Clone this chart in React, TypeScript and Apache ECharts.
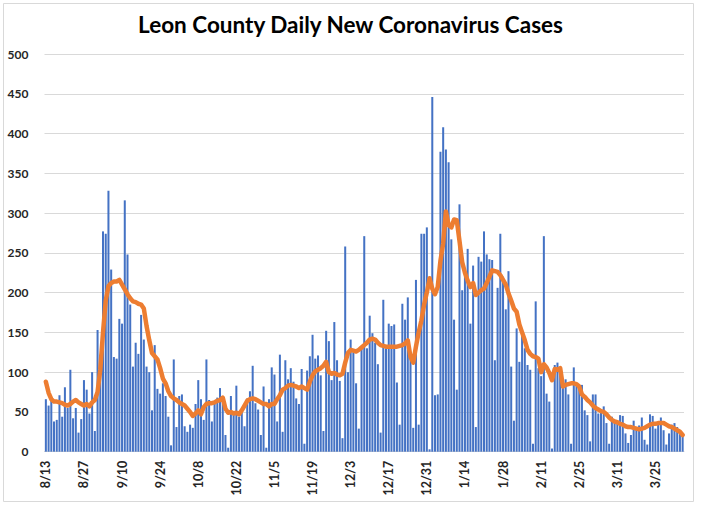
import React, { useEffect, useRef } from "react";
import * as echarts from "echarts";

const startDate = { year: 2020, month: 8, day: 13 };

const dailyCases: number[] = [
  66, 58, 67, 38, 40, 71, 44, 81, 55, 103,
  42, 55, 24, 41, 90, 78, 48, 100, 26, 153,
  122, 277, 274, 328, 229, 119, 117, 167, 161, 316,
  248, 185, 107, 137, 123, 172, 141, 107, 100, 52,
  134, 79, 73, 86, 70, 44, 8, 116, 31, 70,
  72, 32, 25, 34, 30, 60, 90, 66, 40, 116,
  65, 38, 60, 68, 80, 68, 21, 5, 70, 49,
  83, 44, 54, 32, 67, 76, 108, 61, 53, 21,
  82, 5, 66, 106, 97, 38, 122, 25, 115, 91,
  105, 88, 67, 60, 104, 10, 102, 120, 147, 117,
  121, 96, 26, 152, 139, 90, 163, 115, 89, 17,
  258, 100, 141, 125, 86, 29, 132, 271, 130, 171,
  149, 137, 110, 24, 191, 130, 161, 158, 160, 87,
  34, 186, 166, 194, 119, 30, 216, 34, 274, 274,
  282, 3, 446, 71, 72, 377, 408, 380, 364, 267,
  166, 78, 311, 203, 225, 255, 161, 234, 31, 245,
  239, 277, 248, 242, 241, 115, 206, 274, 220, 179,
  227, 107, 39, 155, 113, 150, 130, 109, 103, 10,
  189, 105, 95, 271, 73, 63, 4, 109, 112, 105,
  80, 91, 72, 10, 106, 84, 84, 84, 52, 46,
  13, 72, 72, 48, 53, 57, 36, 10, 44, 40,
  36, 46, 45, 23, 11, 21, 39, 31, 33, 43,
  15, 9, 47, 45, 29, 38, 43, 27, 9, 23,
  34, 36, 31, 23, 22,
];

const rollingAverage: number[] = [
  88, 74, 66, 63, 63, 62, 61, 59, 58, 60,
  63, 65, 62, 60, 58, 60, 57, 62, 65, 75,
  103, 150, 190, 208, 212, 214, 214, 216, 210, 204,
  198, 193, 189, 188, 186, 185, 180, 158, 140, 124,
  120, 116, 105, 92, 86, 76, 70, 67, 65, 62,
  60, 58, 54, 50, 45, 48, 52, 47, 56, 60,
  61, 61, 62, 64, 65, 68, 54, 49, 50, 48,
  49, 47, 52, 58, 64, 66, 67, 66, 64, 62,
  60, 60, 57, 60, 60, 66, 71, 78, 80, 83,
  84, 83, 82, 80, 82, 80, 78, 88, 96, 101,
  103, 105, 108, 113, 100, 98, 99, 97, 96, 98,
  112, 124, 128, 127, 126, 128, 131, 134, 137, 141,
  142, 141, 137, 134, 133, 132, 132, 132, 132, 132,
  133, 134, 136, 140, 119, 112, 132, 150, 165, 185,
  200, 218, 205, 198, 207, 240, 262, 302, 285, 282,
  292, 291, 265, 238, 225, 215, 207, 212, 197, 200,
  203, 205, 212, 220, 228, 227, 226, 222, 216, 210,
  199, 190, 180, 176, 160, 150, 140, 128, 123, 120,
  119, 117, 100, 110, 106, 99, 90, 104, 103, 105,
  82, 84, 85, 86, 86, 85, 82, 72, 69, 65,
  62, 58, 55, 53, 51, 50, 47, 43, 40, 38,
  37, 35, 34, 32, 31, 31, 30, 29, 28, 29,
  30, 32, 34, 35, 35, 36, 36, 36, 34, 32,
  31, 29, 27, 25, 21,
];

const yTicks = { min: 0, max: 500, interval: 50 };
const titleText = "Leon County Daily New Coronavirus Cases";

function buildDates(count: number): string[] {
  const out: string[] = [];
  const d = new Date(startDate.year, startDate.month - 1, startDate.day);
  for (let i = 0; i < count; i++) {
    out.push(`${d.getMonth() + 1}/${d.getDate()}`);
    d.setDate(d.getDate() + 1);
  }
  return out;
}

const categories = buildDates(dailyCases.length);

export default function App() {
  const ref = useRef<HTMLDivElement>(null);
  useEffect(() => {
    if (!ref.current) return;
    const chart = echarts.init(ref.current, undefined, { renderer: "svg" });
    chart.setOption({
      animation: false,
      backgroundColor: "#ffffff",
      title: {
        text: titleText,
        left: "center",
        top: 8,
        textStyle: {
          fontFamily: "Lato",
          fontWeight: "bold",
          fontSize: 22.5,
          color: "#000000",
        },
      },
      graphic: [
        {
          type: "rect",
          shape: { x: 3.5, y: 3.5, width: 690, height: 498 },
          style: { fill: "none", stroke: "#D9D9D9", lineWidth: 1 },
          silent: true,
        },
      ],
      grid: { left: 44.5, right: 17, top: 54, bottom: 56.3 },
      xAxis: {
        type: "category",
        data: categories,
        boundaryGap: true,
        axisLine: { show: true, lineStyle: { color: "#D9D9D9" } },
        axisTick: { show: false },
        axisLabel: {
          interval: 13,
          rotate: 90,
          margin: 9,
          fontSize: 12.5,
          fontFamily: "Lato",
          fontWeight: "bold",
          color: "#262626",
        },
      },
      yAxis: {
        type: "value",
        min: yTicks.min,
        max: yTicks.max,
        interval: yTicks.interval,
        axisLine: { show: false },
        axisTick: { show: false },
        splitLine: { lineStyle: { color: "#D9D9D9", width: 1 } },
        axisLabel: {
          fontSize: 12,
          fontFamily: "Lato",
          fontWeight: "bold",
          color: "#262626",
          margin: 16,
        },
      },
      series: [
        {
          type: "bar",
          data: dailyCases,
          barWidth: "74%",
          itemStyle: { color: "#4472C4" },
        },
        {
          type: "line",
          data: rollingAverage,
          showSymbol: false,
          symbol: "none",
          lineStyle: { color: "#ED7D31", width: 4.5, cap: "round", join: "round" },
          z: 3,
        },
      ],
    });
    return () => chart.dispose();
  }, []);
  return (
    <div
      ref={ref}
      style={{ position: "absolute", left: 0, top: 0, width: 701, height: 508 }}
    />
  );
}
